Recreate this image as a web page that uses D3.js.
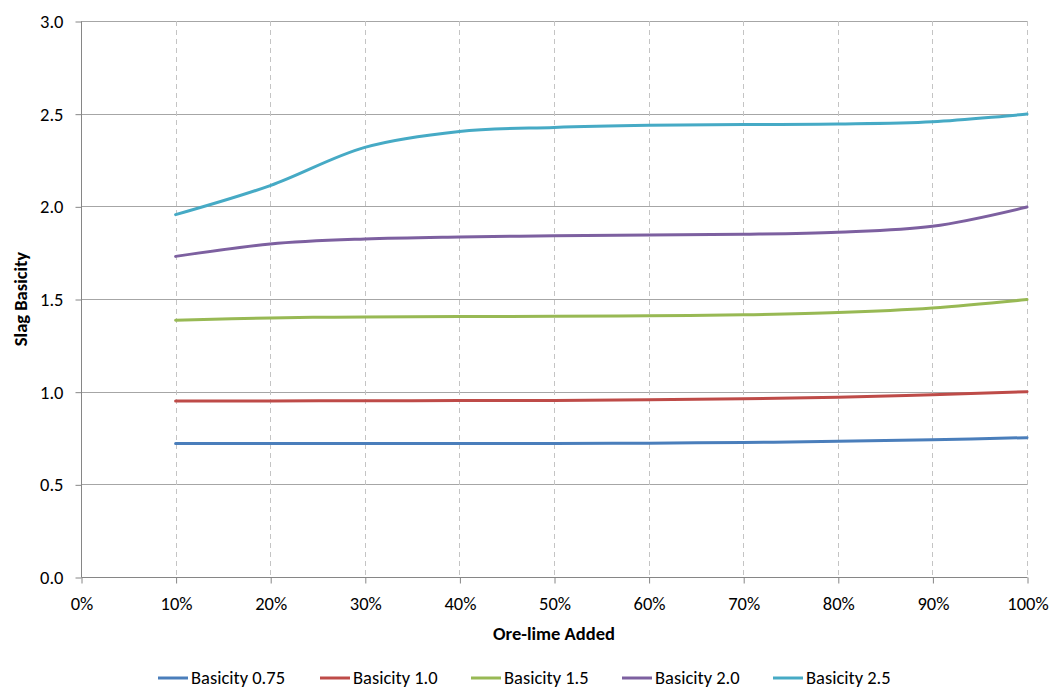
<!DOCTYPE html>
<html>
<head>
<meta charset="utf-8">
<script src="https://cdn.jsdelivr.net/npm/d3@7/dist/d3.min.js"></script>
<style>
  html, body { margin: 0; padding: 0; background: #fff; }
  svg { display: block; font-family: Carlito, Calibri, Lato, "Open Sans", sans-serif; }
</style>
</head>
<body>
<svg id="chart" width="1053" height="690"></svg>
<script>
// Ore-lime added (fraction) on the x axis
const oreLime = [0.1, 0.2, 0.3, 0.4, 0.5, 0.6, 0.7, 0.8, 0.9, 1.0];

// Slag basicity for each target basicity series
const basicity075 = [0.72, 0.72, 0.72, 0.72, 0.72, 0.722, 0.726, 0.732, 0.74, 0.752];
const basicity10  = [0.95, 0.95, 0.951, 0.952, 0.953, 0.956, 0.962, 0.97, 0.984, 1.0];
const basicity15  = [1.385, 1.398, 1.403, 1.405, 1.407, 1.41, 1.415, 1.427, 1.452, 1.497];
const basicity20  = [1.73, 1.797, 1.824, 1.835, 1.841, 1.845, 1.849, 1.86, 1.892, 1.996];
const basicity25  = [1.955, 2.112, 2.318, 2.404, 2.426, 2.437, 2.441, 2.444, 2.456, 2.498];

const seriesNames = ["Basicity 0.75", "Basicity 1.0", "Basicity 1.5", "Basicity 2.0", "Basicity 2.5"];
const seriesValues = [basicity075, basicity10, basicity15, basicity20, basicity25];
const seriesColors = ["#4a7ebb", "#be4b48", "#98b954", "#7d60a0", "#46aac5"];

const xTicks = [0, 0.1, 0.2, 0.3, 0.4, 0.5, 0.6, 0.7, 0.8, 0.9, 1.0];
const yTicks = [0, 0.5, 1.0, 1.5, 2.0, 2.5, 3.0];

(function () {
const svg = d3.select("#chart");
const plotLeft = 81, plotRight = 1027, plotTop = 21, plotBottom = 577;
const fontSize = "18.5px";

const x = d3.scaleLinear().domain([0, 1]).range([plotLeft, plotRight]);
const y = d3.scaleLinear().domain([0, 3]).range([plotBottom, plotTop]);

// Horizontal gridlines
svg.append("g")
  .selectAll("line")
  .data(yTicks.filter(d => d > 0))
  .join("line")
  .attr("x1", plotLeft).attr("x2", plotRight)
  .attr("y1", d => Math.round(y(d)) + 0.5).attr("y2", d => Math.round(y(d)) + 0.5)
  .attr("stroke", "#a6a6a6").attr("stroke-width", 1);

// Vertical dashed gridlines
svg.append("g")
  .selectAll("line")
  .data(xTicks.filter(d => d > 0))
  .join("line")
  .attr("x1", d => Math.round(x(d)) + 0.5).attr("x2", d => Math.round(x(d)) + 0.5)
  .attr("y1", plotTop).attr("y2", plotBottom)
  .attr("stroke", "#c4c4c4").attr("stroke-width", 1)
  .attr("stroke-dasharray", "5,4");

// Y axis
const yAxis = svg.append("g")
  .attr("transform", `translate(${plotLeft + 0.5},0.5)`)
  .call(d3.axisLeft(y).tickValues(yTicks).tickFormat(d3.format(".1f")).tickSize(6).tickPadding(12));
yAxis.select(".domain").attr("stroke", "#868686").attr("d", `M0,${plotTop}V${plotBottom}`);
yAxis.selectAll(".tick line").attr("stroke", "#868686");
yAxis.selectAll(".tick text").attr("fill", "#000").style("font-size", fontSize)
  .style("font-family", "Carlito, Calibri, Lato, sans-serif");

// X axis
const xAxis = svg.append("g")
  .attr("transform", `translate(0.5,${plotBottom + 0.5})`)
  .call(d3.axisBottom(x).tickValues(xTicks).tickFormat(d3.format(".0%")).tickSize(6).tickPadding(13));
xAxis.select(".domain").attr("stroke", "#868686").attr("d", `M${plotLeft},0H${plotRight}`);
xAxis.selectAll(".tick line").attr("stroke", "#868686");
xAxis.selectAll(".tick text").attr("fill", "#000").style("font-size", fontSize)
  .style("font-family", "Carlito, Calibri, Lato, sans-serif");

// Axis titles
svg.append("text")
  .attr("x", (plotLeft + plotRight) / 2).attr("y", 640)
  .attr("text-anchor", "middle")
  .style("font-size", fontSize).style("font-weight", "bold")
  .text("Ore-lime Added");

svg.append("text")
  .attr("transform", `translate(27,${(plotTop + plotBottom) / 2}) rotate(-90)`)
  .attr("text-anchor", "middle")
  .style("font-size", fontSize).style("font-weight", "bold")
  .text("Slag Basicity");

// Series lines
const line = d3.line()
  .x((d, i) => x(oreLime[i]))
  .y(d => y(d))
  .curve(d3.curveCatmullRom.alpha(0.5));

svg.append("g")
  .selectAll("path")
  .data(seriesValues)
  .join("path")
  .attr("d", d => line(d))
  .attr("fill", "none")
  .attr("stroke", (d, i) => seriesColors[i])
  .attr("stroke-width", 3)
  .attr("stroke-linecap", "round");

// Legend
const legendX = [158, 320, 471, 622, 773];
const legend = svg.append("g")
  .selectAll("g")
  .data(seriesNames)
  .join("g")
  .attr("transform", (d, i) => `translate(${legendX[i]},678)`);
legend.append("line")
  .attr("x1", 0).attr("x2", 30).attr("y1", 0).attr("y2", 0)
  .attr("stroke", (d, i) => seriesColors[i]).attr("stroke-width", 3);
legend.append("text")
  .attr("x", 33).attr("y", 6)
  .style("font-size", fontSize)
  .text(d => d);
})();
</script>
</body>
</html>
